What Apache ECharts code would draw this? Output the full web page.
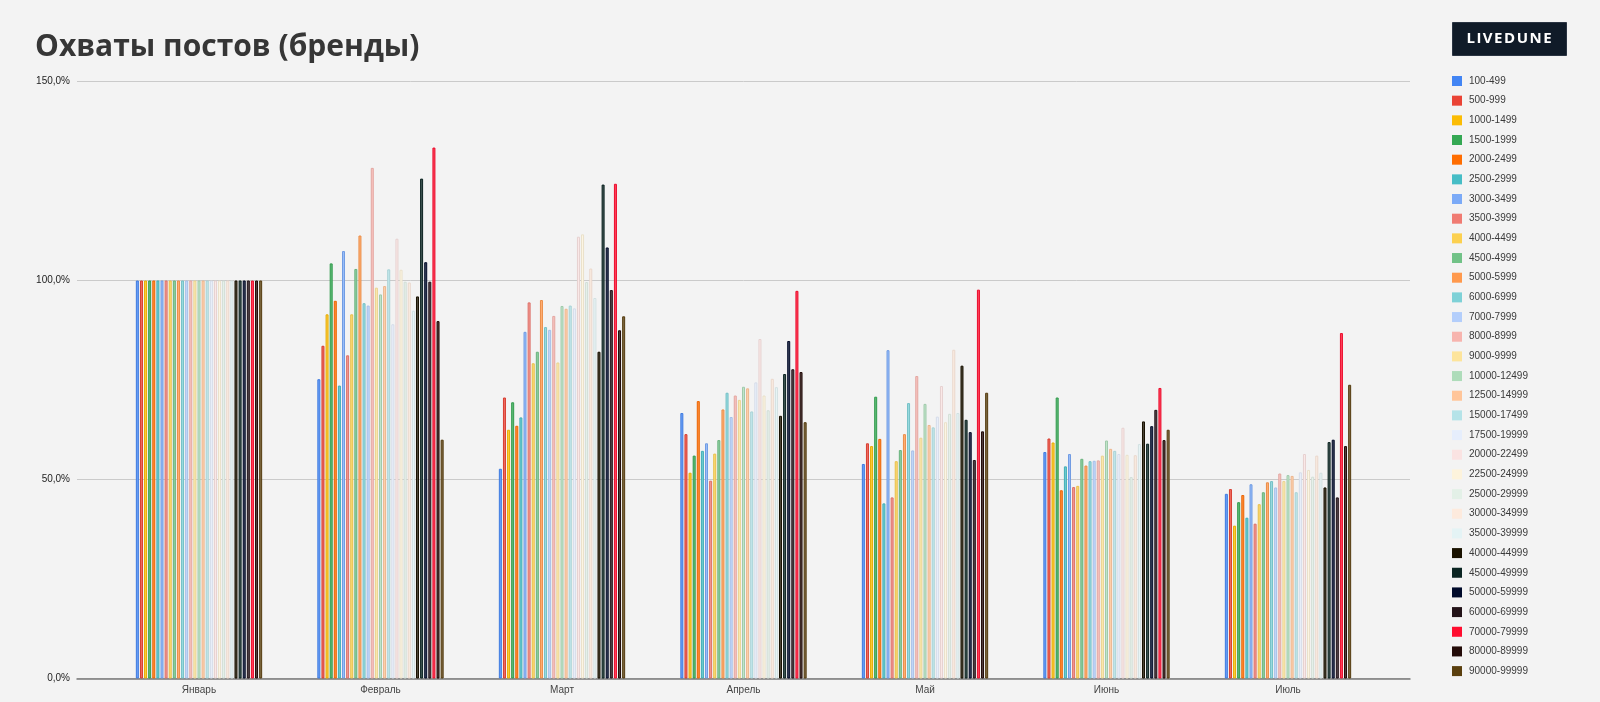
<!DOCTYPE html>
<html>
<head>
<meta charset="utf-8">
<script src="https://cdn.jsdelivr.net/npm/echarts@6/dist/echarts.min.js"></script>
<style>
html,body{margin:0;padding:0;background:#f3f3f3;}
#c{width:1600px;height:702px;}
</style>
</head>
<body>
<div id="c"></div>
<script>
const months = ['Январь','Февраль','Март','Апрель','Май','Июнь','Июль'];
const ranges = ['100-499','500-999','1000-1499','1500-1999','2000-2499','2500-2999','3000-3499','3500-3999','4000-4499','4500-4999','5000-5999','6000-6999','7000-7999','8000-8999','9000-9999','10000-12499','12500-14999','15000-17499','17500-19999','20000-22499','22500-24999','25000-29999','30000-34999','35000-39999','40000-44999','45000-49999','50000-59999','60000-69999','70000-79999','80000-89999','90000-99999'];
const palette = ['#4285f4','#ea4335','#fbbc04','#34a853','#ff6d01','#46bdc6','#7baaf7','#f07b72','#fcd04f','#71c287','#ff994d','#7ed1d7','#b3cefb','#f7b4ae','#fde49b','#aedcba','#ffc599','#b5e3e8','#e6eefc','#fae3e2','#fdf3dc','#e3f0e7','#fdeadd','#e4f3f5','#1a1200','#0b2522','#000a2a','#231318','#ff0d2f','#230b08','#5a3f0e'];

const jan = [100,100,100,100,100,100,100,100,100,100,100,100,100,100,100,100,100,100,100,100,100,100,100,100,100,100,100,100,100,100,100];
const feb = [75.2,83.6,91.5,104.3,94.9,73.6,107.4,81.2,91.5,102.9,111.3,94.3,93.7,128.3,98.2,96.5,98.6,102.8,89.0,110.5,102.7,99.7,99.5,92.4,96.0,125.6,104.6,99.7,133.4,89.8,60.0];
const mar = [52.7,70.6,62.5,69.4,63.5,65.6,87.1,94.5,79.2,82.1,95.1,88.3,87.6,91.1,79.4,93.6,92.9,93.7,93.0,111.0,111.6,99.6,103.0,95.6,82.1,124.1,108.3,97.6,124.3,87.5,91.0];
const apr = [66.7,61.4,51.7,56.0,69.7,57.2,59.1,49.7,56.5,59.9,67.6,71.8,65.7,71.1,70.0,73.3,72.9,67.1,74.4,85.3,71.1,67.4,75.3,73.2,66.0,76.5,84.8,77.7,97.4,77.0,64.4];
const may = [53.9,59.1,58.4,70.8,60.2,44.0,82.5,45.5,54.6,57.4,61.4,69.2,57.3,76.0,60.5,69.0,63.7,63.1,65.8,73.5,64.4,66.5,82.6,66.7,78.6,65.0,61.9,54.9,97.7,62.1,71.8];
const jun = [56.9,60.3,59.3,70.6,47.3,53.3,56.4,48.1,48.4,55.2,53.5,54.6,54.7,54.8,56.0,59.8,57.7,57.2,56.4,63.0,56.2,50.6,56.1,58.9,64.6,59.0,63.4,67.5,73.0,59.9,62.5];
const jul = [46.4,47.6,38.4,44.3,46.1,40.4,48.8,38.9,43.8,46.8,49.3,49.6,48.0,51.5,49.6,51.1,50.9,46.8,51.8,56.4,52.4,50.7,56.0,51.7,48.0,59.4,60.0,45.5,86.8,58.4,73.8];
const yTicks = [0,50,100,150];

const monthData = [jan,feb,mar,apr,may,jun,jul];

function hexToRgb(h){h=h.replace('#','');return [parseInt(h.substr(0,2),16),parseInt(h.substr(2,2),16),parseInt(h.substr(4,2),16)];}
function mix(h,t,w){const a=hexToRgb(h);return 'rgb('+a.map((v,i)=>Math.round(v*(1-w)+t[i]*w)).join(',')+')';}

const series = ranges.map((name,i)=>({
  name: name,
  type: 'bar',
  xAxisIndex: 0,
  yAxisIndex: 0,
  barWidth: 3,
  barGap: '37%',
  data: monthData.map(m=>m[i]),
  itemStyle: {
    color: mix(palette[i],[255,255,255],0.22),
    borderColor: mix(palette[i],[0,0,0],0.08),
    borderWidth: 1
  },
  emphasis: {disabled: true},
  animation: false
}));

const fmt = v => v.toFixed(1).replace('.',',') + '%';

const chart = echarts.init(document.getElementById('c'), null, {renderer:'canvas'});
chart.setOption({
  backgroundColor: '#f3f3f3',
  animation: false,
  title: {
    text: 'Охваты постов (бренды)',
    left: 30, top: 27,
    textStyle: {fontFamily: 'Open Sans', fontWeight: 'bold', fontSize: 30, color: '#363636'}
  },
  legend: {
    orient: 'vertical',
    left: 1452, top: 76,
    padding: 0,
    itemWidth: 10, itemHeight: 10, itemGap: 9.67,
    icon: 'rect',
    selectedMode: false,
    textStyle: {fontFamily: 'Arial, Liberation Sans, sans-serif', fontSize: 10, color: '#3a3a3a', lineHeight: 10, padding: [0,0,0,2]},
    data: ranges.map((n,i)=>({name: n, itemStyle: {color: palette[i], borderWidth: 0}}))
  },
  grid: [
    {left: 108.25, width: 1270.5, top: 81.5, height: 597, containLabel: false},
    {left: 77, width: 1333, top: 81.5, height: 597, containLabel: false}
  ],
  xAxis: [
    {type: 'category', gridIndex: 0, data: months,
     axisLine: {show: false}, axisTick: {show: false},
     axisLabel: {fontFamily: 'Arial, Liberation Sans, sans-serif', fontSize: 10, color: '#444', margin: 7}},
    {type: 'value', gridIndex: 1, min: 0, max: 1,
     axisLine: {show: true, onZero: false, lineStyle: {color: '#7a7a7a', width: 1.5}},
     axisTick: {show: false}, axisLabel: {show: false}, splitLine: {show: false}}
  ],
  yAxis: [
    {type: 'value', gridIndex: 0, min: 0, max: 150, interval: 50,
     axisLine: {show: false}, axisTick: {show: false}, axisLabel: {show: false}, splitLine: {show: false}},
    {type: 'value', gridIndex: 1, min: yTicks[0], max: yTicks[yTicks.length-1], interval: 50,
     axisLine: {show: false}, axisTick: {show: false},
     axisLabel: {formatter: fmt, fontFamily: 'Arial, Liberation Sans, sans-serif', fontSize: 10, color: '#222', margin: 7},
     splitLine: {show: true, lineStyle: {color: '#cacaca', width: 1}}}
  ],
  graphic: [
    {type: 'rect', left: 1452, top: 22, z: 10,
     shape: {width: 114, height: 33},
     style: {fill: '#101b28', stroke: '#2a3442', lineWidth: 1}},
    {type: 'text', x: 1509, y: 38.5, z: 11,
     style: {text: 'L I V E D U N E'.replace(/ /g,'\u200A'), fill: '#ffffff', font: 'bold 15px "Open Sans", sans-serif', align: 'center', verticalAlign: 'middle'}}
  ],
  series: series
});
</script>
</body>
</html>
